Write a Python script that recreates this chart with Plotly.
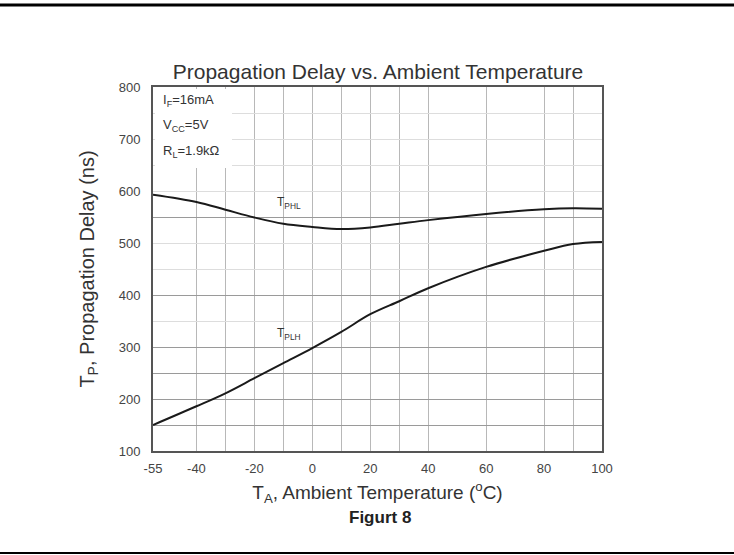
import plotly.graph_objects as go

temp = [-55, -40, -30, -20, -10, 0, 10, 20, 30, 40, 60, 80, 90, 100]
tphl = [593, 579, 564, 549, 537, 531, 527, 530, 537, 544, 556, 565, 567, 566]
tplh = [150, 186, 211, 240, 269, 298, 329, 363, 388, 413, 454, 485, 498, 502]

x_ticks = [-55, -40, -20, 0, 20, 40, 60, 80, 100]
x_grid = [-40, -30, -20, -10, 0, 10, 20, 30, 40, 60, 80, 90]
y_ticks = [100, 200, 300, 400, 500, 600, 700, 800]
y_grid_faint = [150, 200, 250, 300, 350, 400, 450, 500, 550, 600, 650, 700, 750]
y_grid_dark = [150, 200, 250, 300, 400, 550]

conditions = ["I<sub>F</sub>=16mA", "V<sub>CC</sub>=5V", "R<sub>L</sub>=1.9kΩ"]

FONT = "Liberation Sans, Arial, sans-serif"
W, H = 734, 555
L, R, T, B = 153, 132, 87, 104
PW, PH = W - L - R, H - T - B


def px_to_paper_y(py):
    return (H - B - py) / PH


def px_to_paper_x(px):
    return (px - L) / PW


fig = go.Figure()
fig.add_trace(go.Scatter(x=temp, y=tphl, mode="lines", line=dict(color="#1a1a1a", width=2, shape="spline"),
                         showlegend=False, hoverinfo="skip"))
fig.add_trace(go.Scatter(x=temp, y=tplh, mode="lines", line=dict(color="#1a1a1a", width=2, shape="spline"),
                         showlegend=False, hoverinfo="skip"))
fig.add_trace(go.Scatter(x=[temp[0]], y=[y_ticks[0]], yaxis="y2", mode="markers",
                         marker=dict(opacity=0), showlegend=False, hoverinfo="skip"))

fig.update_layout(
    width=W, height=H,
    margin=dict(l=L, r=R, t=T, b=B),
    paper_bgcolor="white", plot_bgcolor="white",
    font=dict(family=FONT, color="#333333"),
    title=dict(text="Propagation Delay vs. Ambient Temperature", x=378 / W,
               xanchor="center", y=1 - 72 / H, yanchor="middle", font=dict(size=21, color="#333333")),
    xaxis=dict(range=[-55, 100], tickmode="array", tickvals=x_ticks, ticktext=[str(v) for v in x_ticks],
               showgrid=False, zeroline=False, showline=True, mirror=True, linecolor="#555555", linewidth=2,
               ticks="", tickfont=dict(size=13, color="#444444"), ticklabelstandoff=4,
               minor=dict(tickmode="array", tickvals=x_grid, showgrid=True, gridcolor="#b8b8b8", gridwidth=1.2),
               title=dict(text="T<sub>A</sub>, Ambient Temperature (<sup>o</sup>C)",
                          font=dict(size=19, color="#333333"), standoff=11),
               layer="above traces"),
    yaxis=dict(range=[100, 800], tickmode="array", tickvals=y_ticks, ticktext=[str(v) for v in y_ticks],
               showgrid=False, zeroline=False, showline=True, mirror=True, linecolor="#555555", linewidth=2,
               ticks="", tickfont=dict(size=13, color="#444444"), ticklabelstandoff=8,
               minor=dict(tickmode="array", tickvals=y_grid_faint, showgrid=True, gridcolor="#dddddd", gridwidth=1),
               title=dict(text="T<sub>P</sub>, Propagation Delay (ns)", font=dict(size=20, color="#333333"),
                          standoff=19)),
    yaxis2=dict(range=[100, 800], overlaying="y", side="left", tickmode="array", tickvals=y_grid_dark,
                showticklabels=False, showgrid=True, gridcolor="#9a9a9a", gridwidth=1.2, zeroline=False,
                showline=False, ticks=""),
)

# white box behind the test conditions (covers grid there)
fig.add_shape(type="rect", xref="paper", yref="paper", layer="above",
              x0=px_to_paper_x(155), x1=px_to_paper_x(232), y0=px_to_paper_y(168), y1=px_to_paper_y(89),
              fillcolor="white", line=dict(width=0))
for i, txt in enumerate(conditions):
    fig.add_annotation(xref="paper", yref="paper", x=px_to_paper_x(161), y=px_to_paper_y(101 + 25 * i),
                       xanchor="left", yanchor="middle", text=txt, showarrow=False,
                       font=dict(size=13, color="#333333"))

fig.add_annotation(x=-8, y=tphl[4] + 40, text="T<sub>PHL</sub>", showarrow=False,
                   font=dict(size=12, color="#333333"))
fig.add_annotation(x=-8, y=tplh[5] + 27, text="T<sub>PLH</sub>", showarrow=False,
                   font=dict(size=12, color="#333333"))
fig.add_annotation(xref="paper", yref="paper", x=px_to_paper_x(380), y=px_to_paper_y(517),
                   xanchor="center", yanchor="middle",
                   text="<b>Figurt 8</b>", showarrow=False, font=dict(size=17, color="#222222"))

# black rules at top and bottom of the page
x0p = px_to_paper_x(0)
x1p = px_to_paper_x(W)
fig.add_shape(type="line", xref="paper", yref="paper", x0=x0p, x1=x1p,
              y0=px_to_paper_y(5), y1=px_to_paper_y(5), line=dict(color="black", width=3))
fig.add_shape(type="line", xref="paper", yref="paper", x0=x0p, x1=x1p,
              y0=px_to_paper_y(553), y1=px_to_paper_y(553), line=dict(color="black", width=2))

fig.write_html("out.html", config={"displayModeBar": False},
               post_script="document.body.style.margin='0';")
